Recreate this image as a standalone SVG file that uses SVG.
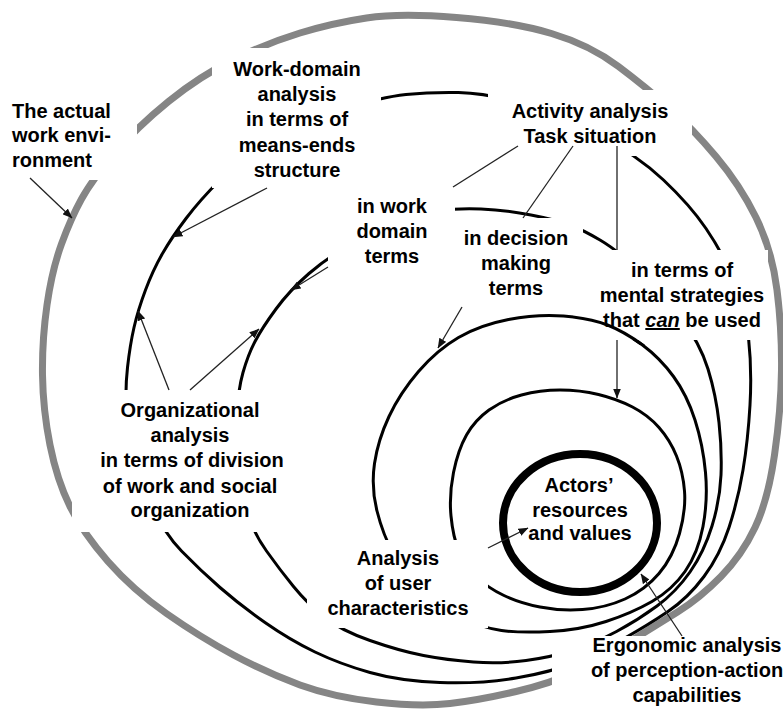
<svg xmlns="http://www.w3.org/2000/svg" xmlns:xlink="http://www.w3.org/1999/xlink" width="783" height="712" viewBox="0 0 783 712">
<style>
.bg{fill:#ffffff}
.ring{fill:none;stroke:#000;stroke-width:3;stroke-linejoin:round}
.gray{fill:none;stroke:#858585;stroke-width:7}
.thick{fill:none;stroke:#000;stroke-width:8}
.box{fill:#ffffff;stroke:none}
.lbl{font-family:"Liberation Sans",Arial,sans-serif;font-weight:bold;font-size:20px;fill:#000;text-anchor:middle}
.lft{text-anchor:start}
.conn{fill:none;stroke:#222;stroke-width:1.3}
</style>
<defs>
<marker id="ah" viewBox="0 0 10 8" refX="9.5" refY="4" markerWidth="10" markerHeight="8" markerUnits="userSpaceOnUse" orient="auto"><path d="M0,0 L10,4 L0,8 z" fill="#111"/></marker>
<clipPath id="clipM"><rect x="573" y="248" width="120" height="97"/></clipPath>
</defs>
<rect class="bg" x="0" y="0" width="783" height="712"/>
<g id="rings">
<path id="environment-ring" class="gray" d="M366.5,18 Q400,13 456.5,17.5 Q513,22 551.5,33.5 Q590,45 618.5,66.5 Q647,88 669.5,108 Q692,128 716,156.5 Q740,185 756,217.5 Q772,250 777,290 Q782,330 781.5,370 Q781,410 774.5,455 Q768,500 755,527.5 Q742,555 721,576.5 Q700,598 677.5,612 Q655,626 627.5,643 Q600,660 576,671.5 Q552,683 516,691.5 Q480,700 450,703.5 Q420,707 376.5,702 Q333,697 300,685 Q267,673 233.5,655 Q200,637 166.5,613.5 Q133,590 108,561.5 Q83,533 70,506.5 Q57,480 50,445 Q43,410 42.5,375 Q42,340 47,305 Q52,270 61.5,244 Q71,218 81.5,199 Q92,180 114.5,153.5 Q137,127 168.5,101.5 Q200,76 233.5,59.5 Q267,43 300,33 Q333,23 366.5,18 Z"/>
<path id="ring-c1" class="ring" d="M341,109.5 Q382,97 406,94.5 Q430,92 458.5,92.5 Q487,93 523.5,104 Q560,115 598.5,135 Q637,155 663.5,180 Q690,205 706,228.5 Q722,252 733.5,278.5 Q745,305 748.5,337.5 Q752,370 750,405 Q748,440 743,470 Q738,500 729,527.5 Q720,555 704,576.5 Q688,598 668,611.5 Q648,625 624,638.5 Q600,652 576,662 Q552,672 516,678 Q480,684 440,682.5 Q400,681 370,672.5 Q340,664 315,652 Q290,640 265,622.5 Q240,605 220,587.5 Q200,570 181.5,551 Q163,532 151.5,503.5 Q140,475 134,452.5 Q128,430 126.5,410 Q125,390 127.5,367.5 Q130,345 134,327.5 Q138,310 145.5,290 Q153,270 162.5,253.5 Q172,237 186,218.5 Q200,200 220,180 Q240,160 270,141 Q300,122 341,109.5 Z"/>
<path id="ring-c2" class="ring" d="M438.5,211 Q457,208 481,209 Q505,210 531,215 Q557,220 570,225 Q583,230 600,240 Q617,250 638.5,270 Q660,290 680,316.5 Q700,343 708,369 Q716,395 719,422.5 Q722,450 721,475 Q720,500 712,526 Q704,552 690,572 Q676,592 657,606 Q638,620 616.5,631.5 Q595,643 573.5,650 Q552,657 526,660.5 Q500,664 473.5,662 Q447,660 423.5,655.5 Q400,651 370,640.5 Q340,630 323.5,616.5 Q307,603 293.5,586.5 Q280,570 266.5,551 Q253,532 246.5,511 Q240,490 238,465 Q236,440 237,415 Q238,390 243,372.5 Q248,355 255,341.5 Q262,328 276,309 Q290,290 309,273.5 Q328,257 354,242.5 Q380,228 400,221 Q420,214 438.5,211 Z"/>
<path id="ring-c3" class="ring" d="M508.5,319.5 Q537,314 563.5,316 Q590,318 607.5,325 Q625,332 642.5,345 Q660,358 673.5,376.5 Q687,395 695,420 Q703,445 705.5,472.5 Q708,500 703,526.5 Q698,553 685,571.5 Q672,590 652,601.5 Q632,613 606,621.5 Q580,630 550,631.5 Q520,633 501.5,630.5 Q483,628 461.5,618 Q440,608 422.5,591.5 Q405,575 394,555 Q383,535 377,511 Q371,487 374.5,463.5 Q378,440 389,416.5 Q400,393 418.5,371.5 Q437,350 458.5,337.5 Q480,325 508.5,319.5 Z"/>
<path id="ring-c4" class="ring" d="M521.5,395 Q540,390 560,390 Q580,390 598.5,394.5 Q617,399 632.5,407 Q648,415 659,427.5 Q670,440 676.5,456 Q683,472 684.5,491 Q686,510 679.5,533.5 Q673,557 659,573.5 Q645,590 625,599 Q605,608 582.5,609.5 Q560,611 540,607 Q520,603 504,595.5 Q488,588 476.5,577 Q465,566 459,551.5 Q453,537 451,516 Q449,495 453.5,472.5 Q458,450 466.5,435 Q475,420 489,410 Q503,400 521.5,395 Z"/>
<ellipse id="ring-actors" class="thick" cx="580" cy="523" rx="77" ry="69"/>
</g>
<g id="node-environment">
<rect class="box" x="0" y="90" width="137" height="90"/>
<text class="lbl lft" x="12" y="118">The actual</text>
<text class="lbl lft" x="12" y="142">work envi-</text>
<text class="lbl lft" x="12" y="167">ronment</text>
</g>
<g id="node-workdomain">
<rect class="box" x="212" y="48" width="169" height="140"/>
<text class="lbl" x="297" y="76">Work-domain</text>
<text class="lbl" x="297" y="101">analysis</text>
<text class="lbl" x="297" y="126">in terms of</text>
<text class="lbl" x="297" y="152">means-ends</text>
<text class="lbl" x="297" y="177">structure</text>
</g>
<g id="node-activity">
<rect class="box" x="488" y="90" width="204" height="66"/>
<text class="lbl" x="590" y="118">Activity analysis</text>
<text class="lbl" x="590" y="143">Task situation</text>
</g>
<g id="node-inwork">
<rect class="box" x="328" y="187" width="127" height="90"/>
<text class="lbl" x="392" y="213">in work</text>
<text class="lbl" x="392" y="238">domain</text>
<text class="lbl" x="392" y="263">terms</text>
</g>
<g id="node-indecision">
<rect class="box" x="445" y="218" width="138" height="89"/>
<text class="lbl" x="516" y="245">in decision</text>
<text class="lbl" x="516" y="270">making</text>
<text class="lbl" x="516" y="295">terms</text>
</g>
<g id="node-mental">
<rect class="box" x="573" y="250" width="195" height="90"/>
<text class="lbl" x="682" y="277">in terms of</text>
<text class="lbl" x="682" y="302">mental strategies</text>
<text class="lbl" x="682" y="327">that <tspan font-style="italic" text-decoration="underline">can</tspan> be used</text>
</g>
<g id="node-organizational">
<rect class="box" x="72" y="390" width="235" height="142"/>
<text class="lbl" x="190" y="417">Organizational</text>
<text class="lbl" x="190" y="442">analysis</text>
<text class="lbl" x="192" y="467">in terms of division</text>
<text class="lbl" x="190" y="493">of work and social</text>
<text class="lbl" x="190" y="517">organization</text>
</g>
<g id="node-analysis">
<rect class="box" x="307" y="540" width="181" height="88"/>
<text class="lbl" x="398" y="565">Analysis</text>
<text class="lbl" x="398" y="590">of user</text>
<text class="lbl" x="398" y="615">characteristics</text>
</g>
<g id="node-ergonomic">
<rect class="box" x="552" y="636" width="231" height="76"/>
<text class="lbl" x="687" y="652">Ergonomic analysis</text>
<text class="lbl" x="687" y="677">of perception-action</text>
<text class="lbl" x="687" y="702">capabilities</text>
</g>
<g id="node-actors">
<text class="lbl" x="579" y="492">Actors’</text>
<text class="lbl" x="580" y="517">resources</text>
<text class="lbl" x="580" y="540">and values</text>
</g>
<use xlink:href="#ring-c3" clip-path="url(#clipM)"/>
<g id="connectors">
<line class="conn" x1="30" y1="178" x2="72" y2="218" marker-end="url(#ah)"/>
<line class="conn" x1="267" y1="188" x2="173" y2="237" marker-end="url(#ah)"/>
<line class="conn" x1="518" y1="146" x2="453" y2="187"/>
<line class="conn" x1="573" y1="146" x2="523" y2="218"/>
<line class="conn" x1="617" y1="146" x2="617" y2="250"/>
<line class="conn" x1="617" y1="340" x2="617" y2="398" marker-end="url(#ah)"/>
<line class="conn" x1="328" y1="267" x2="291" y2="290" marker-end="url(#ah)"/>
<line class="conn" x1="462" y1="307" x2="438" y2="348" marker-end="url(#ah)"/>
<line class="conn" x1="169" y1="390" x2="138" y2="311" marker-end="url(#ah)"/>
<line class="conn" x1="190" y1="390" x2="259" y2="329" marker-end="url(#ah)"/>
<line class="conn" x1="488" y1="548" x2="528" y2="528" marker-end="url(#ah)"/>
<line class="conn" x1="682" y1="636" x2="641" y2="574" marker-end="url(#ah)"/>
</g>
</svg>
